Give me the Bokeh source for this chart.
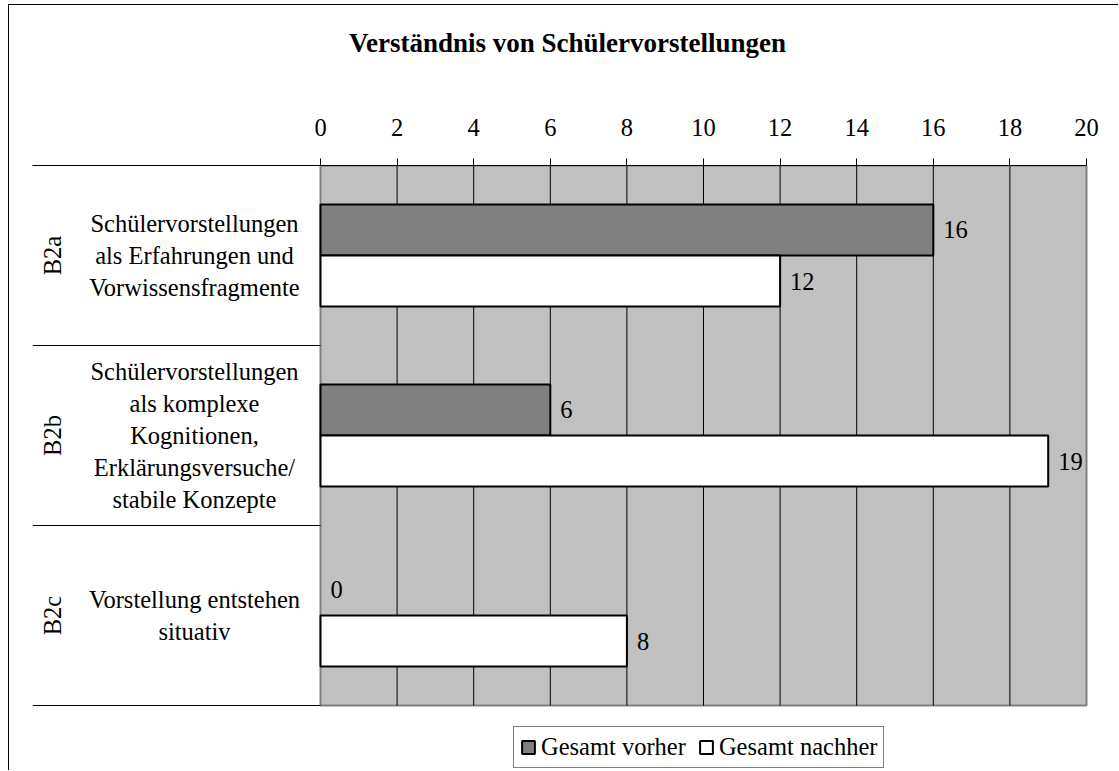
import math
from bokeh.plotting import figure
from bokeh.models import Range1d, FixedTicker, Legend, LegendItem, ColumnDataSource, LinearAxis
from bokeh.core.properties import value
from bokeh.embed import file_html
from bokeh.resources import INLINE

# ---- data ----
codes = ["B2a", "B2b", "B2c"]
labels = [
    "Schülervorstellungen\nals Erfahrungen und\nVorwissensfragmente",
    "Schülervorstellungen\nals komplexe\nKognitionen,\nErklärungsversuche/\nstabile Konzepte",
    "Vorstellung entstehen\nsituativ",
]
vorher = [16, 6, 0]
nachher = [12, 19, 8]
series_names = ["Gesamt vorher", "Gesamt nachher"]
x_ticks = [0, 2, 4, 6, 8, 10, 12, 14, 16, 18, 20]
title_text = "Verständnis von Schülervorstellungen"

FONT = "Liberation Serif"
FS = "24.5px"
n = len(codes)
centers = [n - 1 - i + 0.5 for i in range(n)]
off = 0.142
bh = 0.283
px_per_unit = 38.3
xmin = -(320 - 32) / px_per_unit
xmax = x_ticks[-1] + (1102 - 1086) / px_per_unit
ymin = n - 606 / 180

p = figure(width=1110, height=766, output_backend="svg", toolbar_location=None,
           x_range=Range1d(xmin, xmax), y_range=Range1d(ymin, n),
           x_axis_location=None, y_axis_location=None,
           min_border_left=23, min_border_right=17, min_border_top=160, min_border_bottom=0)
p.styles = {"margin-left": "8px", "margin-top": "4px",
            "border-left": "1px solid black", "border-top": "1px solid black"}
p.outline_line_color = None
p.xgrid.visible = False
p.ygrid.visible = False
p.background_fill_color = "white"

ax = LinearAxis(ticker=FixedTicker(ticks=x_ticks), bounds=(xmin, x_ticks[-1]))
ax.axis_line_color = "black"
ax.axis_line_width = 1
ax.major_tick_out = 7
ax.major_tick_in = 0
ax.major_tick_line_color = "black"
ax.minor_tick_line_color = None
ax.major_label_text_font = FONT
ax.major_label_text_font_size = FS
ax.major_label_text_color = "black"
ax.major_label_standoff = 23
ax.axis_label = title_text
ax.axis_label_text_font = FONT
ax.axis_label_text_font_size = "27px"
ax.axis_label_text_font_style = "bold"
ax.axis_label_text_color = "black"
ax.axis_label_standoff = 58
p.add_layout(ax, "above")

# plot area background
p.quad(left=[0], right=[x_ticks[-1]], bottom=[0], top=[n],
       fill_color="#C0C0C0", line_color="#808080", line_width=2)
# grid lines
gx = x_ticks[1:-1]
p.segment(x0=gx, x1=gx, y0=[0] * len(gx), y1=[n] * len(gx), line_color="black", line_width=1)
# category separators on the left
bounds = list(range(n + 1))
p.segment(x0=[xmin] * len(bounds), x1=[0] * len(bounds), y0=bounds, y1=bounds,
          line_color="black", line_width=1)

src = ColumnDataSource(dict(
    yv=[c + off for c in centers], yn=[c - off for c in centers],
    vorher=vorher, nachher=nachher,
    la_v=[1 if v > 0 else 0 for v in vorher], la_n=[1 if v > 0 else 0 for v in nachher],
    tv=[str(v) for v in vorher], tn=[str(v) for v in nachher],
    yc=centers, lab=labels, code=codes,
    lx=[-3.29] * n, cx=[-7.0] * n,
))

r1 = p.hbar(y="yv", left=0, right="vorher", height=bh, source=src,
            fill_color="#808080", line_color="black", line_width=2, line_alpha="la_v")
r2 = p.hbar(y="yn", left=0, right="nachher", height=bh, source=src,
            fill_color="white", line_color="black", line_width=2, line_alpha="la_n")

p.text(x="vorher", y="yv", text="tv", source=src, x_offset=10, text_align="left",
       text_baseline="middle", text_font=value(FONT), text_font_size=FS, text_color="black")
p.text(x="nachher", y="yn", text="tn", source=src, x_offset=10, text_align="left",
       text_baseline="middle", text_font=value(FONT), text_font_size=FS, text_color="black")

p.text(x="lx", y="yc", text="lab", source=src, text_align="center", text_baseline="middle",
       text_font=value(FONT), text_font_size=FS, text_color="black", text_line_height=1.18)
p.text(x="cx", y="yc", text="code", source=src, angle=math.pi / 2, text_align="center",
       text_baseline="middle", text_font=value(FONT), text_font_size=FS, text_color="black")

legend = Legend(items=[LegendItem(label=series_names[0], renderers=[r1]),
                       LegendItem(label=series_names[1], renderers=[r2])],
                orientation="horizontal", location=(481, 3))
legend.label_text_font = FONT
legend.label_text_font_size = FS
legend.label_text_color = "black"
legend.glyph_width = 16
legend.glyph_height = 16
legend.padding = 6
legend.spacing = 12
legend.label_standoff = 5
legend.border_line_color = "black"
legend.border_line_width = 1
legend.background_fill_alpha = 1
legend.margin = 0
p.add_layout(legend)

open("out.html", "w").write(file_html(p, INLINE))
